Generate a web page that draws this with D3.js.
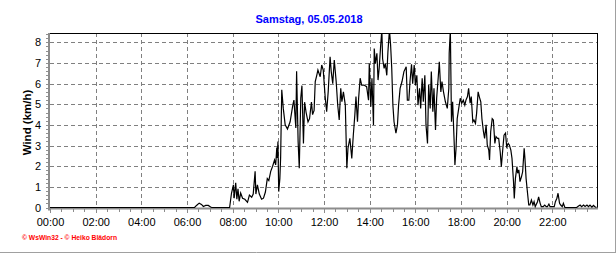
<!DOCTYPE html>
<html>
<head>
<meta charset="utf-8">
<script src="https://cdn.jsdelivr.net/npm/d3@7"></script>
<style>
  html, body { margin: 0; padding: 0; background: #fff; }
  svg { display: block; }
</style>
</head>
<body>
<script>
// ---- Data (minutes since midnight, wind in km/h) ----
const title = "Samstag, 05.05.2018";
const yLabel = "Wind (km/h)";
const footer = "\u00A9 WsWin32  -  \u00A9 Heiko Bl\u00E4dorn";
const xTickMinutes = [0, 120, 240, 360, 480, 600, 720, 840, 960, 1080, 1200, 1320];
const xTickLabels = ["00:00","02:00","04:00","06:00","08:00","10:00","12:00","14:00","16:00","18:00","20:00","22:00"];
const yTicks = [0, 1, 2, 3, 4, 5, 6, 7, 8];

const minutes = [
  0, 380, 385, 392, 398, 403, 409, 416, 422, 425, 472,
  477, 482, 484, 488, 491, 494, 497, 501, 506, 512, 519, 524, 530, 534, 539, 541, 545, 550, 556, 561, 566, 571, 575, 580, 585, 590, 593, 596, 597, 599,
  601, 604, 606, 609, 613, 618, 624, 631, 638, 641, 646, 648, 652, 655, 659, 662, 666, 669, 673, 678, 682, 687, 690, 694, 697,
  701, 704, 710, 714, 718, 723, 727, 731, 736, 739, 743, 747, 752, 756, 760, 764, 767, 771, 776, 780, 783, 788, 793, 797,
  801, 804, 808, 811, 815, 819, 825, 832, 837, 839, 843, 846, 850, 852, 855, 859, 862, 865, 869, 872, 874, 878, 881, 885, 888, 892, 895, 898,
  901, 904, 909, 913, 916, 920, 925, 930, 936, 939, 943, 946, 950, 953, 957, 960, 964, 967, 971, 974, 978, 981, 985, 988, 992, 995, 999,
  1002, 1006, 1009, 1013, 1016, 1020, 1023, 1027, 1030, 1034, 1039, 1044, 1048, 1049, 1052, 1055, 1058, 1062, 1064, 1067, 1070, 1074, 1078,
  1082, 1086, 1090, 1093, 1097, 1100, 1104, 1107, 1111, 1114, 1118, 1121, 1125, 1128, 1132, 1135, 1139, 1142, 1146, 1149, 1153, 1155, 1158,
  1162, 1165, 1169, 1172, 1176, 1179, 1183, 1186, 1190, 1193, 1197, 1200, 1204, 1207, 1211, 1214, 1218, 1220, 1223, 1227, 1229, 1232, 1235,
  1239, 1242, 1246, 1248, 1251, 1254, 1258, 1261, 1265, 1269, 1272, 1275, 1281, 1284, 1288, 1291, 1296, 1300, 1304, 1307, 1311, 1314, 1319,
  1325, 1328, 1332, 1335, 1339, 1342, 1346, 1349, 1353, 1384, 1388, 1393, 1397, 1402, 1406, 1411, 1415, 1419, 1424, 1428, 1432, 1436
];
const wind = [
  0, 0, 0.1, 0.21, 0.15, 0.05, 0.1, 0.1, 0.02, 0, 0,
  0.7, 1.1, 0.45, 1.2, 0.4, 0.9, 0.3, 0.7, 0.45, 0.4, 0.25, 0.6, 0.5, 0.65, 1.75, 0.65, 1.1, 0.65, 0.4, 0.45, 0.75, 1.4, 1.3, 1.75, 2.0, 2.3, 2.06, 2.9, 2.4, 3.2,
  0.77, 1.4, 2.4, 5.7, 4.8, 4.0, 3.8, 4.15, 4.96, 5.2, 3.85, 6.6, 3.2, 1.9, 5.3, 5.9, 3.1, 5.1, 4.6, 4.15, 4.3, 5.1, 4.5, 4.7, 6.1,
  6.4, 6.66, 6.33, 6.9, 6.66, 5.37, 4.64, 5.6, 7.3, 6.58, 6.0, 7.14, 6.1, 4.96, 4.24, 5.77, 5.12, 5.6, 4.96, 1.9, 2.87, 3.35, 2.38, 3.5,
  4.48, 5.37, 4.15, 5.29, 6.26, 5.93, 5.93, 5.85, 5.2, 6.98, 4.88, 6.26, 4.0, 7.7, 6.98, 7.47, 6.17, 6.74, 7.87, 8.6, 7.2, 6.74, 6.98, 6.4, 7.55, 8.6, 7.87, 6.74,
  4.96, 4.15, 3.6, 4.0, 4.96, 5.77, 6.1, 6.58, 6.82, 5.2, 5.2, 6.1, 6.93, 6.0, 6.9, 5.93, 6.4, 4.96, 5.77, 4.8, 6.26, 5.12, 6.4, 4.0, 3.1, 5.93, 4.8,
  6.58, 4.64, 5.77, 3.75, 5.29, 6.26, 7.06, 5.6, 6.1, 5.6, 5.12, 4.8, 5.77, 7.47, 8.6, 4.15, 5.12, 3.2, 2.06, 2.87, 4.3, 4.8, 5.29,
  5.05, 5.2, 4.96, 5.2, 5.37, 5.77, 5.05, 5.37, 4.15, 4.24, 4.07, 4.56, 5.6, 5.37, 5.12, 4.3, 3.67, 3.35, 4.0, 3.03, 2.78, 2.3, 3.67,
  4.3, 4.24, 3.1, 3.43, 3.35, 3.35, 2.7, 1.98, 2.87, 3.5, 3.6, 2.94, 3.1, 3.03, 2.78, 2.38, 1.25, 0.44, 1.41, 1.98, 1.66, 1.82, 1.25,
  1.5, 1.73, 2.87, 2.38, 1.41, 0.85, 0.12, 0.12, 0.36, 0.12, 0.28, 0.04, 0.28, 0.52, 0.2, 0.04, 0.04, 0.12, 0.04, 0.04, 0.17, 0.04, 0.04,
  0.04, 0.28, 0.45, 0.69, 0.2, 0.12, 0.04, 0.2, 0, 0, 0.06, 0.12, 0.04, 0.12, 0.05, 0.12, 0.04, 0.12, 0.02, 0.1, 0.04, 0
];

// ---- Layout ----
const W = 616, H = 253;
const pLeft = 50, pRight = 597, pTop = 33, pBottom = 207.5;

const svg = d3.select("body").append("svg")
  .attr("width", W).attr("height", H)
  .style("font-family", "'Liberation Sans', Arial, sans-serif");

const x = d3.scaleLinear().domain([0, 1440]).range([pLeft, 598]);
const y = d3.scaleLinear().domain([0, 8.45]).range([pBottom, pTop]);

// outer frame (right and bottom grey edge)
svg.append("line").attr("x1", W - 0.5).attr("x2", W - 0.5).attr("y1", 0).attr("y2", H)
  .attr("stroke", "#a0a0a0");
svg.append("line").attr("x1", 0).attr("x2", W).attr("y1", H - 0.5).attr("y2", H - 0.5)
  .attr("stroke", "#a0a0a0");

// title
svg.append("text").attr("x", 309).attr("y", 23)
  .attr("text-anchor", "middle").attr("font-size", 11).attr("font-weight", "bold")
  .attr("fill", "#0000ff").text(title);

// grid
const grid = svg.append("g").attr("stroke", "#808080").attr("stroke-dasharray", "4,3")
  .attr("shape-rendering", "crispEdges");
grid.selectAll("line.h").data(yTicks.filter(d => d > 0)).join("line")
  .attr("x1", pLeft).attr("x2", pRight)
  .attr("y1", d => Math.round(y(d)) + 0.5).attr("y2", d => Math.round(y(d)) + 0.5);
grid.selectAll("line.v").data(xTickMinutes.filter(d => d > 0)).join("line")
  .attr("x1", d => Math.round(x(d)) + 0.5).attr("x2", d => Math.round(x(d)) + 0.5)
  .attr("y1", pTop).attr("y2", pBottom);

// plot frame top/right black
svg.append("path")
  .attr("d", `M${pLeft},${pTop + 0.5}H${pRight + 0.5}V${pBottom}`)
  .attr("fill", "none").attr("stroke", "#000").attr("shape-rendering", "crispEdges");

// y axis (grey, left)
const yAxis = d3.axisLeft(y).tickValues(yTicks).tickSize(0).tickPadding(8)
  .tickFormat(d3.format("d"));
const gy = svg.append("g").attr("transform", `translate(${pLeft - 1},0)`).call(yAxis);
gy.select(".domain").remove();
gy.selectAll("text").attr("font-size", 11).attr("fill", "#000")
  .attr("font-family", "'Liberation Sans', Arial, sans-serif");
// minor ticks on y axis
const yMinor = d3.range(0, 8.45, 0.2);
svg.append("g").attr("stroke", "#909090").attr("shape-rendering", "crispEdges")
  .selectAll("line").data(yMinor).join("line")
  .attr("x1", pLeft - 4).attr("x2", pLeft - 1)
  .attr("y1", d => Math.round(y(d)) + 0.5).attr("y2", d => Math.round(y(d)) + 0.5);
svg.append("rect").attr("x", pLeft - 2).attr("y", pTop).attr("width", 2).attr("height", pBottom - pTop + 3)
  .attr("fill", "#8c8c8c");

// x axis (grey, bottom)
const xAxis = d3.axisBottom(x).tickValues(xTickMinutes).tickSize(5).tickPadding(6)
  .tickFormat((d, i) => xTickLabels[i]);
const gx = svg.append("g").attr("transform", `translate(0,${pBottom})`).call(xAxis);
gx.select(".domain").remove();
gx.selectAll(".tick line").attr("stroke", "#8c8c8c").attr("shape-rendering", "crispEdges");
gx.selectAll("text").attr("font-size", 11).attr("fill", "#000")
  .attr("font-family", "'Liberation Sans', Arial, sans-serif");
const xMinor = d3.range(30, 1440, 30).filter(d => d % 120 !== 0);
svg.append("g").attr("stroke", "#8c8c8c").attr("shape-rendering", "crispEdges")
  .selectAll("line").data(xMinor).join("line")
  .attr("x1", d => Math.round(x(d)) + 0.5).attr("x2", d => Math.round(x(d)) + 0.5)
  .attr("y1", pBottom).attr("y2", pBottom + 4);
svg.append("rect").attr("x", pLeft - 2).attr("y", pBottom).attr("width", pRight - pLeft + 3).attr("height", 2)
  .attr("fill", "#8c8c8c");

// y label
svg.append("text")
  .attr("transform", `translate(30.5,122.5) rotate(-90)`)
  .attr("text-anchor", "middle").attr("font-size", 11.5).attr("font-weight", "bold")
  .attr("fill", "#000").text(yLabel);

// data line
svg.append("clipPath").attr("id", "clip").append("rect")
  .attr("x", pLeft).attr("y", pTop).attr("width", pRight - pLeft + 1).attr("height", pBottom - pTop + 2);
const pts = minutes.map((m, i) => [m, wind[i]]);
const line = d3.line().x(d => x(d[0])).y(d => y(d[1]));
svg.append("path").datum(pts)
  .attr("clip-path", "url(#clip)")
  .attr("d", line)
  .attr("fill", "none").attr("stroke", "#000").attr("stroke-width", 1.2)
  .attr("stroke-linejoin", "miter");

// footer
svg.append("text").attr("x", 22).attr("y", 240)
  .attr("font-size", 7).attr("font-weight", "bold").attr("fill", "#ff0000")
  .attr("textLength", 95).attr("lengthAdjust", "spacingAndGlyphs")
  .text(footer);
</script>
</body>
</html>
